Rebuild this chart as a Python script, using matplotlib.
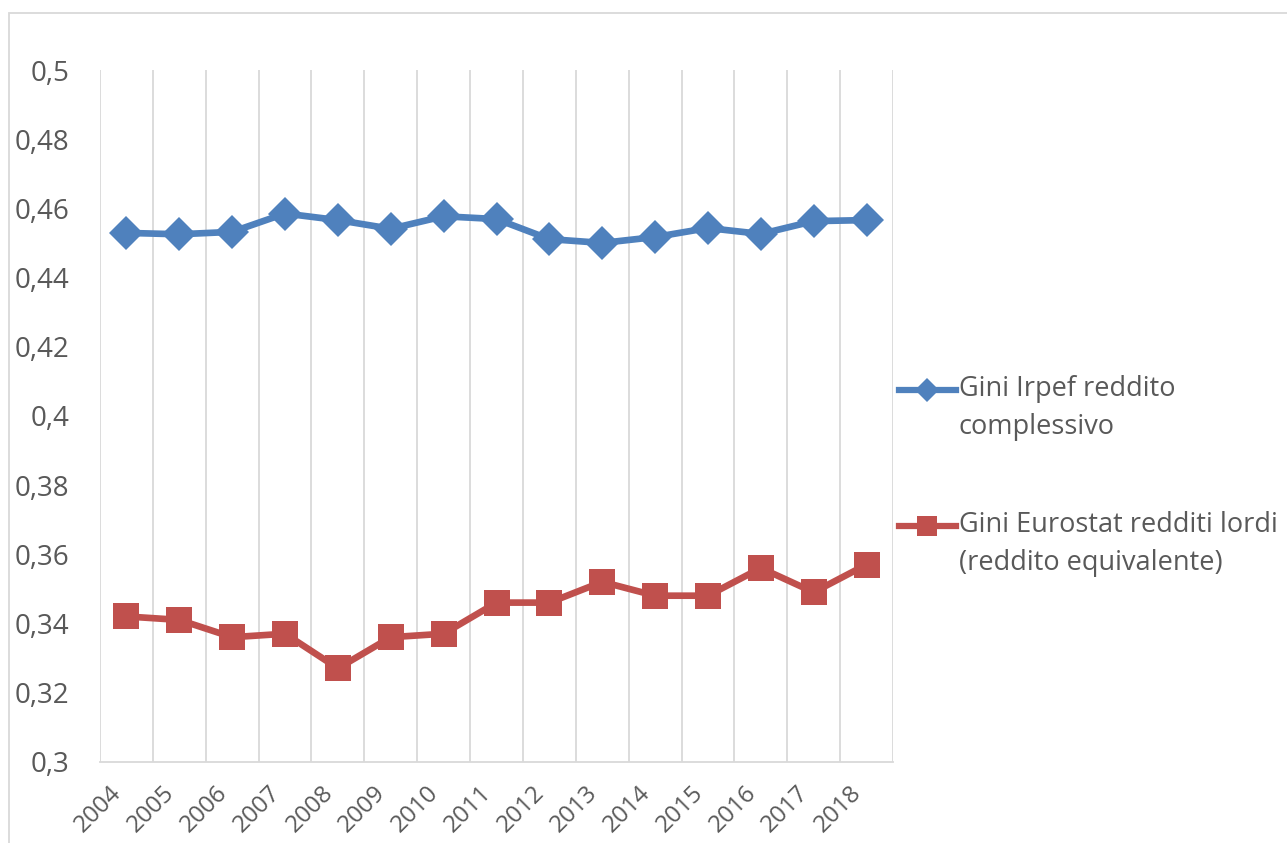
import matplotlib.pyplot as plt
from matplotlib.lines import Line2D
from matplotlib.patches import Rectangle
from matplotlib.ticker import FuncFormatter
from matplotlib.legend_handler import HandlerLine2D

plt.rcParams['font.family'] = ['Open Sans', 'DejaVu Sans']

# Dati
years = ['2004', '2005', '2006', '2007', '2008', '2009', '2010', '2011',
         '2012', '2013', '2014', '2015', '2016', '2017', '2018']
gini_irpef = [0.4529, 0.4525, 0.4532, 0.4585, 0.4566, 0.4541, 0.4577, 0.4569,
              0.4511, 0.4500, 0.4517, 0.4543, 0.4526, 0.4563, 0.4566]
gini_eurostat = [0.342, 0.341, 0.336, 0.337, 0.327, 0.336, 0.337, 0.346,
                 0.346, 0.352, 0.348, 0.348, 0.356, 0.349, 0.357]
label_irpef = 'Gini Irpef reddito\ncomplessivo'
label_eurostat = 'Gini Eurostat redditi lordi\n(reddito equivalente)'

blue = '#4F81BD'
red = '#C0504D'
grid_col = '#D9D9D9'
text_col = '#595959'


class HandlerFirstLine(HandlerLine2D):
    # allinea il simbolo della legenda alla prima riga del testo
    def __init__(self, up, **kw):
        super().__init__(**kw)
        self.up = up

    def create_artists(self, legend, orig_handle, xdescent, ydescent,
                       width, height, fontsize, trans):
        return super().create_artists(legend, orig_handle, xdescent,
                                      ydescent - 2 * self.up, width, height,
                                      fontsize, trans)


fig = plt.figure(figsize=(12.87, 8.43), dpi=100)
ax = fig.add_axes([100 / 1287, 1 - 761.7 / 843, 793 / 1287, 691.7 / 843])

x = list(range(len(years)))
ax.plot(x, gini_irpef, color=blue, lw=4.8, marker='D', ms=17,
        markeredgewidth=0, zorder=3)
ax.plot(x, gini_eurostat, color=red, lw=4.8, marker='s', ms=18.5,
        markeredgewidth=0, zorder=3)

ax.set_xlim(-0.5, len(years) - 0.5)
ax.set_ylim(0.3, 0.5)
ax.set_yticks([0.3 + 0.02 * i for i in range(11)])
ax.yaxis.set_major_formatter(FuncFormatter(lambda v, p: f'{v:.2f}'.rstrip('0').rstrip('.').replace('.', ',')))
ax.set_xticks(x)
ax.set_xticklabels(years, rotation=45, ha='right', va='top', rotation_mode='default')

# griglia verticale tra le categorie
ax.set_xticks([i - 0.5 for i in range(len(years) + 1)], minor=True)
ax.grid(True, which='minor', axis='x', color=grid_col, lw=1.3)
ax.grid(False, which='major')

for s in ['top', 'left', 'right']:
    ax.spines[s].set_visible(False)
ax.spines['bottom'].set_color(grid_col)
ax.spines['bottom'].set_linewidth(1.3)

ax.tick_params(axis='y', length=0, pad=22, labelsize=20, labelcolor=text_col)
ax.tick_params(axis='x', which='both', length=0, pad=14, labelsize=17.5, labelcolor=text_col)

# legenda
handles = [
    Line2D([], [], color=blue, lw=4.5, marker='D', ms=12, markeredgewidth=0),
    Line2D([], [], color=red, lw=4.5, marker='s', ms=14, markeredgewidth=0),
]
leg = fig.legend(handles, [label_irpef, label_eurostat], loc='center left',
                 bbox_to_anchor=(899 / 1287, 1 - 476 / 843), frameon=False,
                 fontsize=19.5, handlelength=2.1, handletextpad=0.1,
                 labelspacing=2.62, borderaxespad=0, borderpad=0,
                 handler_map={h: HandlerFirstLine(13.7) for h in handles})
for t in leg.get_texts():
    t.set_color(text_col)
    t.set_linespacing(1.45)

# bordo del grafico
fig.patches.append(Rectangle((9 / 1287, -0.1), 1.2, 1.1 - 13 / 843,
                             transform=fig.transFigure, fill=False,
                             edgecolor=grid_col, lw=1.3))

fig.savefig('out.png', dpi=100)
